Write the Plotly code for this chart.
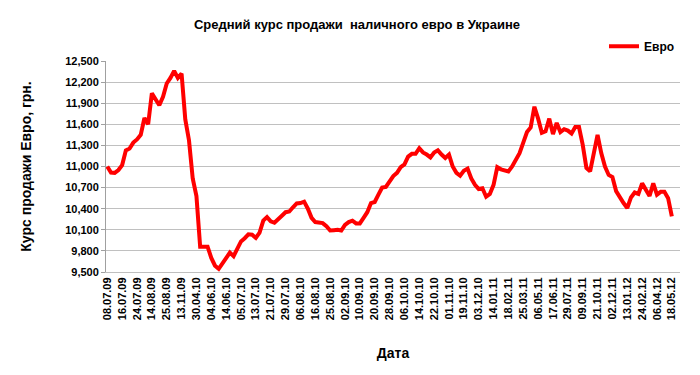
import plotly.graph_objects as go

# Tick labels (dates shown on the category axis, every 4th observation)
tick_labels = ["08.07.09", "16.07.09", "24.07.09", "14.08.09", "25.08.09", "13.11.09",
               "30.04.10", "04.06.10", "14.06.10", "05.07.10", "13.07.10", "21.07.10",
               "29.07.10", "06.08.10", "16.08.10", "25.08.10", "02.09.10", "10.09.10",
               "20.09.10", "28.09.10", "06.10.10", "14.10.10", "22.10.10", "01.11.10",
               "19.11.10", "03.12.10", "14.01.11", "18.02.11", "25.03.11", "06.05.11",
               "17.06.11", "29.07.11", "09.09.11", "21.10.11", "02.12.11", "13.01.12",
               "24.02.12", "06.04.12", "18.05.12"]
label_step = 4

# Average sale rate of cash euro (UAH per 100 EUR)
euro = [11000, 10915, 10910, 10950, 11020, 11230, 11255, 11340, 11385, 11450,
        11690, 11600, 12040, 11960, 11870, 11990, 12180, 12260, 12360, 12260,
        12320, 11670, 11370, 10830, 10580, 9860, 9860, 9860, 9700, 9590,
        9545, 9630, 9710, 9775, 9725, 9830, 9935, 9980, 10035, 10030,
        9985, 10060, 10230, 10280, 10220, 10200, 10260, 10300, 10350, 10360,
        10420, 10475, 10480, 10500, 10400, 10270, 10210, 10200, 10195, 10150,
        10090, 10095, 10100, 10090, 10170, 10210, 10230, 10190, 10190, 10270,
        10350, 10480, 10495, 10600, 10700, 10710, 10790, 10865, 10910, 10990,
        11030, 11140, 11180, 11180, 11260, 11200, 11170, 11130, 11200, 11230,
        11170, 11120, 11170, 11000, 10910, 10870, 10940, 10970, 10830, 10740,
        10680, 10690, 10570, 10610, 10740, 10990, 10960, 10940, 10930, 11000,
        11100, 11190, 11340, 11490, 11555, 11850, 11680, 11480, 11500, 11680,
        11460, 11620, 11490, 11530, 11510, 11470, 11560, 11560, 11310, 10980,
        10930, 11160, 11450, 11190, 11000, 10880, 10850, 10650, 10560, 10480,
        10410, 10560, 10630, 10610, 10760, 10670, 10580, 10760, 10600, 10640,
        10640, 10550, 10290]

y_ticks = list(range(9500, 12501, 300))

idx = list(range(len(euro)))
tick_pos = [i * label_step for i in range(len(tick_labels))]

fig = go.Figure()
fig.add_trace(go.Scatter(
    x=idx, y=euro, mode="lines", name="<b>Евро</b>",
    line=dict(color="#FF0000", width=4, shape="linear"),
))

font_family = "Liberation Sans, Arial, sans-serif"

fig.update_layout(
    width=700, height=375,
    margin=dict(l=106, r=20, t=61, b=103),
    paper_bgcolor="white", plot_bgcolor="white",
    title=dict(text="<b>Средний курс продажи  наличного евро в Украине</b>",
               x=0.51, xanchor="center", y=0.935, yanchor="middle",
               font=dict(family=font_family, size=13, color="black")),
    showlegend=True,
    legend=dict(x=1.0, xanchor="right", y=1.07, yanchor="middle",
                font=dict(family=font_family, size=12, color="black"),
                bgcolor="rgba(0,0,0,0)", itemwidth=30),
    font=dict(family=font_family, color="black"),
)

fig.update_xaxes(
    range=[-0.35, 154.2],
    tickmode="array", tickvals=tick_pos, ticktext=tick_labels,
    tickangle=-90,
    tickfont=dict(family=font_family, size=11, color="black", weight="bold"),
    showgrid=False, zeroline=False,
    showline=True, linecolor="#bfbfbf", linewidth=1,
    ticks="",
    title=dict(text="<b>Дата</b>", font=dict(family=font_family, size=14, color="black"),
               standoff=28),
)

fig.update_yaxes(
    range=[9500, 12500],
    tickmode="array", tickvals=y_ticks,
    tickformat=",d",
    tickfont=dict(family=font_family, size=11, color="black", weight="bold"),
    showgrid=True, gridcolor="#c0c0c0", gridwidth=1,
    zeroline=False,
    showline=True, linecolor="#a0a0a0", linewidth=1,
    ticks="outside", ticklen=4, tickcolor="#a0a0a0",
    title=dict(text="<b>Курс продажи Евро, грн.</b>",
               font=dict(family=font_family, size=14, color="black"), standoff=30),
)

fig.write_html("out.html")
